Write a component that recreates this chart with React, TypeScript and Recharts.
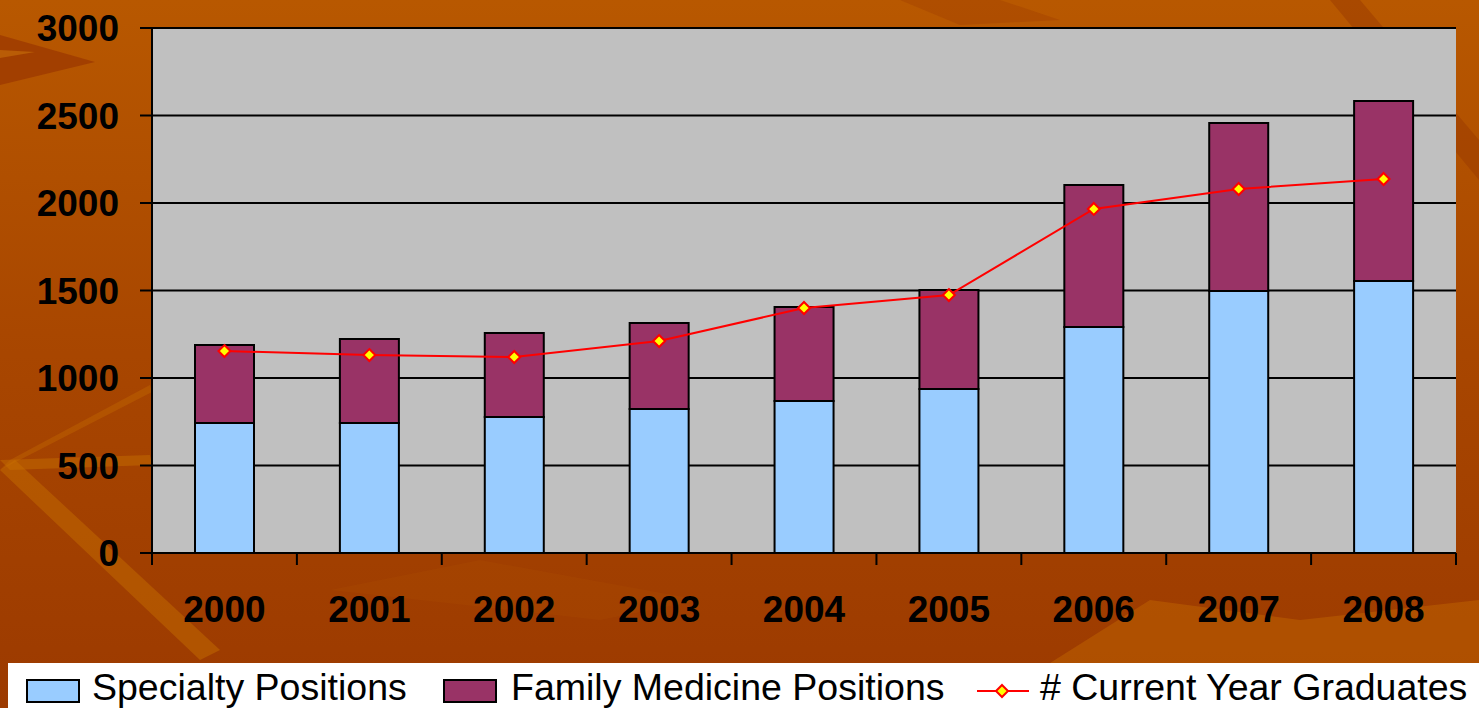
import React from "react";
import { ComposedChart, Bar, Line, XAxis, YAxis, CartesianGrid } from "recharts";

const years = ["2000", "2001", "2002", "2003", "2004", "2005", "2006", "2007", "2008"];
const specialty = [743, 743, 777, 823, 869, 937, 1291, 1497, 1554];
const familyMedicine = [446, 480, 480, 491, 537, 566, 812, 960, 1029];
const graduates = [1154, 1131, 1120, 1211, 1400, 1474, 1966, 2080, 2137];
const yTicks = [0, 500, 1000, 1500, 2000, 2500, 3000];

const data = years.map((y, i) => ({
  year: y,
  specialty: specialty[i],
  family: familyMedicine[i],
  graduates: graduates[i],
}));

const FONT = "'Liberation Sans', Arial, sans-serif";
const X_TICK_SIZE = 12;
const X_TICK_MARGIN = 31;

const Diamond = (props: any) => {
  const { cx, cy, index } = props;
  if (cx == null || cy == null) return <g key={`d-${index}`} />;
  const r = 6;
  return (
    <polygon
      key={`d-${index}`}
      points={`${cx},${cy - r} ${cx + r},${cy} ${cx},${cy + r} ${cx - r},${cy}`}
      fill="#ffff00"
      stroke="#ff0000"
      strokeWidth={2}
    />
  );
};

const XTick = (props: any) => {
  const { x, y, payload, index, visibleTicksCount } = props;
  const half = payload && payload.offset ? payload.offset : 72.45;
  const axisY = y - X_TICK_SIZE - X_TICK_MARGIN;
  const isLast = visibleTicksCount != null ? index === visibleTicksCount - 1 : payload.value === years[years.length - 1];
  return (
    <g>
      <line x1={x - half} y1={axisY} x2={x - half} y2={axisY + X_TICK_SIZE} stroke="#000" strokeWidth={2} />
      {isLast && (
        <line x1={x + half} y1={axisY} x2={x + half} y2={axisY + X_TICK_SIZE} stroke="#000" strokeWidth={2} />
      )}
      <text
        x={x}
        y={y}
        dy="0.71em"
        textAnchor="middle"
        fill="#000"
        fontSize={37}
        fontWeight="bold"
        fontFamily={FONT}
      >
        {payload.value}
      </text>
    </g>
  );
};

const Background = () => (
  <svg width={1479} height={708} style={{ position: "absolute", left: 0, top: 0 }}>
    <defs>
      <linearGradient id="bg" x1="0" y1="0" x2="0" y2="1">
        <stop offset="0" stopColor="#b85800" />
        <stop offset="0.5" stopColor="#a84600" />
        <stop offset="1" stopColor="#9c3a00" />
      </linearGradient>
    </defs>
    <rect x={0} y={0} width={1479} height={708} fill="url(#bg)" />
    <polygon points="0,35 95,62 0,85" fill="#9a3600" opacity={0.7} />
    <polygon points="0,50 35,52 0,58" fill="#c8700a" opacity={0.6} />
    <polygon points="0,460 150,455 152,465 10,470" fill="#c87000" opacity={0.45} />
    <polygon points="0,470 15,460 220,650 200,660" fill="#c87000" opacity={0.45} />
    <polygon points="0,470 10,460 150,385 152,392" fill="#c87000" opacity={0.35} />
    <polygon points="1330,0 1360,0 1479,140 1479,180" fill="#9a3a00" opacity={0.5} />
    <polygon points="1050,663 1150,600 1300,620 1479,600 1479,663" fill="#c06400" opacity={0.5} />
    <polygon points="900,0 1000,0 1060,20 960,25" fill="#a64400" opacity={0.5} />
    <polygon points="330,590 480,560 700,600 600,620" fill="#aa4a00" opacity={0.35} />
  </svg>
);

const Legend = () => {
  const textStyle: React.CSSProperties = {
    position: "absolute",
    top: 3,
    fontFamily: FONT,
    fontSize: 37.5,
    lineHeight: "42px",
    color: "#000",
    whiteSpace: "nowrap",
  };
  return (
    <div
      style={{
        position: "absolute",
        left: 8,
        top: 663,
        width: 1471,
        height: 45,
        background: "#ffffff",
      }}
    >
      <div style={{ position: "absolute", left: 18, top: 16, width: 50, height: 20, background: "#99ccff", border: "2px solid #000" }} />
      <div style={{ ...textStyle, left: 84 }}>Specialty Positions</div>
      <div style={{ position: "absolute", left: 435, top: 16, width: 50, height: 20, background: "#993366", border: "2px solid #000" }} />
      <div style={{ ...textStyle, left: 503 }}>Family Medicine Positions</div>
      <svg style={{ position: "absolute", left: 968, top: 18 }} width={54} height={20}>
        <line x1={1} y1={10} x2={53} y2={10} stroke="#ff0000" strokeWidth={2} />
        <polygon points="26,4 32,10 26,16 20,10" fill="#ffff00" stroke="#ff0000" strokeWidth={2} />
      </svg>
      <div style={{ ...textStyle, left: 1032 }}># Current Year Graduates</div>
    </div>
  );
};

export default function App() {
  return (
    <div style={{ position: "absolute", left: 0, top: 0, width: 1479, height: 708, overflow: "hidden" }}>
      <Background />
      <div style={{ position: "absolute", left: 0, top: 0 }}>
        <ComposedChart
          width={1479}
          height={708}
          data={data}
          margin={{ top: 28, right: 23, left: 0, bottom: 95 }}
          barCategoryGap={0}
        >
          <CartesianGrid
            vertical={false}
            stroke="#000"
            strokeWidth={2}
            fill="#c0c0c0"
            fillOpacity={1}
          />
          <XAxis
            dataKey="year"
            axisLine={{ stroke: "#000", strokeWidth: 2 }}
            tickLine={false}
            tickSize={X_TICK_SIZE}
            tickMargin={X_TICK_MARGIN}
            height={60}
            tick={XTick}
            interval={0}
          />
          <YAxis
            domain={[0, 3000]}
            ticks={yTicks}
            width={152}
            axisLine={{ stroke: "#000", strokeWidth: 2 }}
            tickLine={{ stroke: "#000", strokeWidth: 2 }}
            tickSize={12}
            tickMargin={21}
            interval={0}
            tick={{ fill: "#000", fontSize: 37, fontWeight: "bold", fontFamily: FONT }}
          />
          <Bar
            dataKey="specialty"
            stackId="a"
            fill="#99ccff"
            stroke="#000"
            strokeWidth={2}
            barSize={59}
            isAnimationActive={false}
          />
          <Bar
            dataKey="family"
            stackId="a"
            fill="#993366"
            stroke="#000"
            strokeWidth={2}
            barSize={59}
            isAnimationActive={false}
          />
          <Line
            dataKey="graduates"
            stroke="#ff0000"
            strokeWidth={2}
            dot={Diamond}
            activeDot={false}
            isAnimationActive={false}
          />
        </ComposedChart>
      </div>
      <Legend />
    </div>
  );
}
